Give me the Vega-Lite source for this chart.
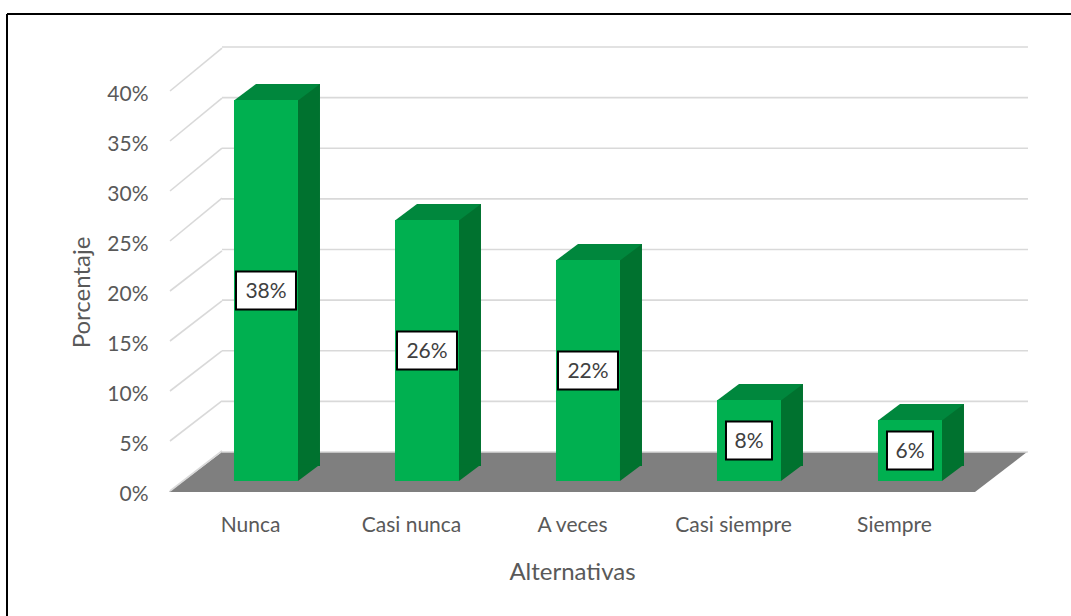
{
  "$schema": "https://vega.github.io/schema/vega-lite/v6.json",
  "width": 1064,
  "height": 602,
  "autosize": {"type": "none"},
  "padding": {"left": 7, "top": 14, "right": 0, "bottom": 0},
  "background": "white",
  "config": {
    "font": "Lato",
    "view": {"stroke": "#000000", "strokeWidth": 2, "strokeDash": [1064, 1666, 602, 0]},
    "axisX": {
      "offset": -102, "labelPadding": 0, "ticks": false, "domain": false, "grid": false,
      "labelAngle": 0, "labelFontSize": 21, "labelColor": "#595959", "labelFont": "Lato",
      "titleFontSize": 24, "titleColor": "#595959", "titleFontWeight": "normal", "titleFont": "Lato",
      "titleX": 565, "titleY": 58, "titleAlign": "center", "titleBaseline": "middle"
    }
  },
  "datasets": {
    "responses": [
      {"alternativa": "Nunca", "pct": 0.38},
      {"alternativa": "Casi nunca", "pct": 0.26},
      {"alternativa": "A veces", "pct": 0.22},
      {"alternativa": "Casi siempre", "pct": 0.08},
      {"alternativa": "Siempre", "pct": 0.06}
    ],
    "grid": [
      {"tick": 0}, {"tick": 0.05}, {"tick": 0.1}, {"tick": 0.15}, {"tick": 0.2},
      {"tick": 0.25}, {"tick": 0.3}, {"tick": 0.35}, {"tick": 0.4}
    ]
  },
  "resolve": {"scale": {"y": "independent"}},
  "layer": [
    {
      "data": {"values": [{"floor": 0}]},
      "mark": {"type": "point", "shape": "M-81.5,1L-28.5,-39L776.5,-39L724.5,1Z", "size": 4, "filled": true, "color": "#7F7F7F", "opacity": 1, "strokeWidth": 0},
      "encoding": {
        "x": {"datum": "Nunca", "type": "nominal", "title": "Alternativas", "scale": {"type": "band", "domain": ["Nunca", "Casi nunca", "A veces", "Casi siempre", "Siempre"], "paddingInner": 0, "paddingOuter": 0.80435, "align": 0.6293}},
        "y": {"datum": 0, "type": "quantitative", "axis": null, "scale": {"domain": [-0.125, 0.477], "nice": false, "zero": false}}
      }
    },
    {
      "data": {"name": "grid"},
      "mark": {"type": "rule", "color": "#D9D9D9", "strokeWidth": 1.6, "xOffset": -28.5, "x2Offset": 133.5},
      "encoding": {
        "x": {"datum": "Nunca", "type": "nominal", "title": "Alternativas"},
        "x2": {"datum": "Siempre"},
        "y": {"field": "tick", "type": "quantitative", "axis": null, "scale": {"domain": [-0.16198, 0.43259], "nice": false, "zero": false}}
      }
    },
    {
      "data": {"name": "grid"},
      "transform": [{"filter": "datum.tick <= 0.2"}],
      "mark": {"type": "rule", "color": "#D9D9D9", "strokeWidth": 1.6, "xOffset": -80.5, "x2Offset": -28.5, "y2Offset": -40.2},
      "encoding": {
        "x": {"datum": "Nunca", "type": "nominal", "title": "Alternativas"},
        "x2": {"datum": "Nunca"},
        "y": {"field": "tick", "type": "quantitative", "axis": null, "scale": {"domain": [-0.125, 0.477], "nice": false, "zero": false}},
        "y2": {"field": "tick"}
      }
    },
    {
      "data": {"name": "grid"},
      "transform": [{"filter": "datum.tick > 0.2"}],
      "mark": {"type": "rule", "color": "#D9D9D9", "strokeWidth": 1.6, "xOffset": -80.5, "x2Offset": -28.5, "y2Offset": -42.8},
      "encoding": {
        "x": {"datum": "Nunca", "type": "nominal", "title": "Alternativas"},
        "x2": {"datum": "Nunca"},
        "y": {"field": "tick", "type": "quantitative", "axis": null, "scale": {"domain": [-0.125, 0.477], "nice": false, "zero": false}},
        "y2": {"field": "tick"}
      }
    },
    {
      "data": {"name": "responses"},
      "mark": {"type": "bar", "width": 22, "xOffset": 58.5, "yOffset": -27, "y2Offset": -25, "color": "#00722F"},
      "encoding": {
        "x": {"field": "alternativa", "type": "nominal", "title": "Alternativas"},
        "y": {"field": "pct", "type": "quantitative", "stack": null, "axis": null, "scale": {"domain": [-0.125, 0.477], "nice": false, "zero": false}},
        "y2": {"datum": 0}
      }
    },
    {
      "data": {"name": "responses"},
      "mark": {"type": "point", "shape": "M32,0L32,-16.5L54,-16.5Z", "size": 4, "filled": true, "color": "#00722F", "opacity": 1, "strokeWidth": 0, "xOffset": 15.5, "yOffset": -10},
      "encoding": {
        "x": {"field": "alternativa", "type": "nominal", "title": "Alternativas"},
        "y": {"datum": 0, "type": "quantitative", "axis": null, "scale": {"domain": [-0.125, 0.477], "nice": false, "zero": false}}
      }
    },
    {
      "data": {"name": "responses"},
      "mark": {"type": "point", "shape": "M-32,0.5L32,0.5L54,-16L-10,-16Z", "size": 4, "filled": true, "color": "#00873D", "opacity": 1, "strokeWidth": 0, "xOffset": 15.5, "yOffset": -11},
      "encoding": {
        "x": {"field": "alternativa", "type": "nominal", "title": "Alternativas"},
        "y": {"field": "pct", "type": "quantitative", "axis": null, "scale": {"domain": [-0.125, 0.477], "nice": false, "zero": false}}
      }
    },
    {
      "data": {"name": "responses"},
      "mark": {"type": "bar", "width": 64, "xOffset": 15.5, "yOffset": -11, "y2Offset": -10, "color": "#00B050"},
      "encoding": {
        "x": {"field": "alternativa", "type": "nominal", "title": "Alternativas"},
        "y": {
          "field": "pct", "type": "quantitative", "stack": null,
          "scale": {"domain": [-0.125, 0.477], "nice": false, "zero": false},
          "axis": {
            "values": [0, 0.05, 0.1, 0.15, 0.2, 0.25, 0.3, 0.35, 0.4],
            "format": ".0%", "orient": "left", "offset": -141, "labelPadding": 0,
            "ticks": false, "domain": false, "grid": false,
            "labelFontSize": 21, "labelColor": "#595959", "labelFont": "Lato", "labelOffset": 3.5,
            "title": "Porcentaje", "titleFontSize": 24, "titleColor": "#595959", "titleFont": "Lato",
            "titleFontWeight": "normal", "titleX": -66, "titleY": 278, "titleAngle": -90,
            "titleAlign": "center", "titleBaseline": "middle"
          }
        },
        "y2": {"datum": 0}
      }
    },
    {
      "data": {"name": "responses"},
      "mark": {"type": "point", "size": 4, "filled": true, "fill": "#FFFFFF", "stroke": "#000000", "strokeWidth": 2, "opacity": 1, "xOffset": 15.5},
      "encoding": {
        "x": {"field": "alternativa", "type": "nominal", "title": "Alternativas"},
        "y": {"field": "pct", "type": "quantitative", "axis": null, "scale": {"domain": [-0.271, 0.933], "nice": false, "zero": false}},
        "shape": {"condition": {"test": "datum.pct >= 0.1", "value": "M-30,-19H30V19H-30Z"}, "value": "M-23,-19H23V19H-23Z"}
      }
    },
    {
      "data": {"name": "responses"},
      "mark": {"type": "text", "font": "Lato", "fontSize": 21, "color": "#404040", "align": "center", "baseline": "middle", "xOffset": 15.5, "yOffset": 1},
      "encoding": {
        "x": {"field": "alternativa", "type": "nominal", "title": "Alternativas"},
        "y": {"field": "pct", "type": "quantitative", "axis": null, "scale": {"domain": [-0.271, 0.933], "nice": false, "zero": false}},
        "text": {"field": "pct", "type": "quantitative", "format": ".0%"}
      }
    }
  ]
}
